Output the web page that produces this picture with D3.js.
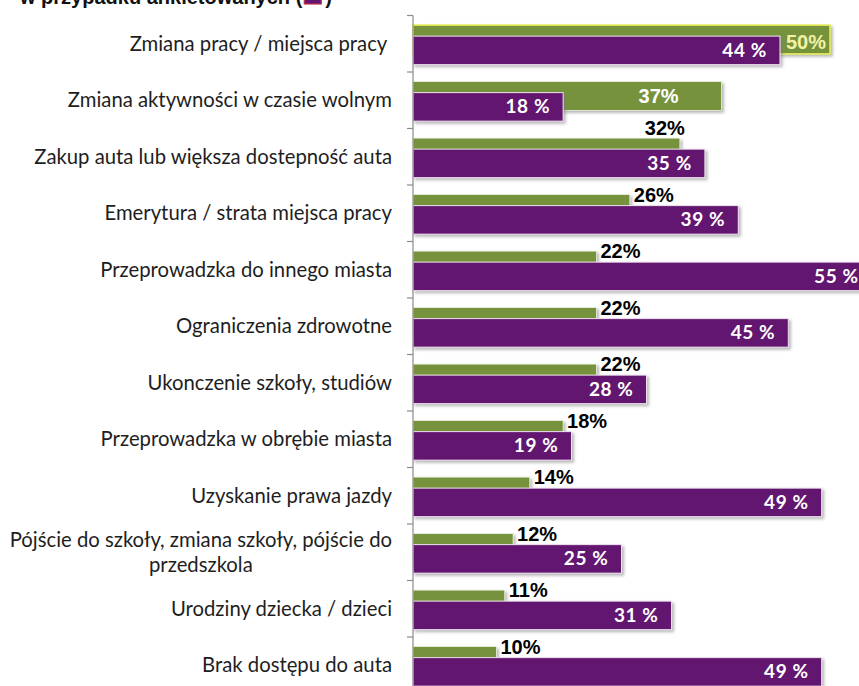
<!DOCTYPE html>
<html>
<head>
<meta charset="utf-8">
<script src="https://cdn.jsdelivr.net/npm/d3@7"></script>
<style>
  html, body { margin: 0; padding: 0; background: #ffffff; }
  svg { display: block; }
</style>
</head>
<body>
<script>
// Reasons for changing the way of travelling (share of answers, %)
const categories = [
  "Zmiana pracy / miejsca pracy\u00a0",
  "Zmiana aktywności w czasie wolnym",
  "Zakup auta lub większa dostepność auta",
  "Emerytura / strata miejsca pracy",
  "Przeprowadzka do innego miasta",
  "Ograniczenia zdrowotne",
  "Ukonczenie szkoły, studiów",
  "Przeprowadzka w obrębie miasta",
  "Uzyskanie prawa jazdy",
  "Pójście do szkoły, zmiana szkoły, pójście do\nprzedszkola",
  "Urodziny dziecka / dzieci",
  "Brak dostępu do auta"
];
// green series: comparison study
const comparisonValues = [50, 37, 32, 26, 22, 22, 22, 18, 14, 12, 11, 10];
// purple series: respondents
const respondentValues = [44, 18, 35, 39, 55, 45, 28, 19, 49, 25, 31, 49];

const W = 859, H = 686;
const GREEN = "#76923c", PURPLE = "#621470";

// where each green value label sits relative to its bar
const greenLabelMode = ["insideHi", "inside", "above", "after", "after", "after",
                        "after", "after", "after", "after", "after", "after"];

const svg = d3.select("body").append("svg")
  .attr("width", W).attr("height", H);

const defs = svg.append("defs");
const shadow = defs.append("filter").attr("id", "shadow")
  .attr("x", "-5%").attr("y", "-30%").attr("width", "115%").attr("height", "180%");
shadow.append("feDropShadow")
  .attr("dx", 2).attr("dy", 2).attr("stdDeviation", 1.4)
  .attr("flood-color", "#7a7a7a").attr("flood-opacity", 0.55);

const x = d3.scaleLinear().domain([0, 50]).range([413, 830]);
const y = d3.scaleBand().domain(categories).range([15.5, 693.5]).padding(0);
const bw = y.bandwidth();

const rows = categories.map((c, i) => ({
  cat: c, green: comparisonValues[i], purple: respondentValues[i], mode: greenLabelMode[i]
}));

// title line (partly above the visible area)
const title = svg.append("g");
const tTxt = title.append("text")
  .attr("x", 20).attr("y", 4)
  .attr("font-family", "'Liberation Sans', Arial, sans-serif")
  .attr("font-weight", "bold").attr("font-size", 20).attr("fill", "#111")
  .text("w przypadku ankietowanych (");
const tLen = tTxt.node().getComputedTextLength();
title.append("rect")
  .attr("x", 20 + tLen + 2).attr("y", -12).attr("width", 17).attr("height", 16)
  .attr("fill", PURPLE).attr("stroke", "#c0304a").attr("stroke-width", 1.2);
title.append("text")
  .attr("x", 20 + tLen + 23).attr("y", 4)
  .attr("font-family", "'Liberation Sans', Arial, sans-serif")
  .attr("font-weight", "bold").attr("font-size", 20).attr("fill", "#111")
  .text(")");

// green bars
svg.append("g").selectAll("rect").data(rows).join("rect")
  .attr("x", x(0))
  .attr("y", d => y(d.cat) + bw * 0.17)
  .attr("width", d => x(d.green) - x(0))
  .attr("height", bw * 0.51)
  .attr("fill", GREEN)
  .attr("stroke", d => d.mode === "insideHi" ? "#e4ec55" : "#eef2e4")
  .attr("stroke-width", d => d.mode === "insideHi" ? 1.6 : 0.8)
  .attr("filter", "url(#shadow)");

// purple bars
svg.append("g").selectAll("rect").data(rows).join("rect")
  .attr("x", x(0))
  .attr("y", d => y(d.cat) + bw * 0.365)
  .attr("width", d => x(d.purple) - x(0))
  .attr("height", bw * 0.505)
  .attr("fill", PURPLE)
  .attr("stroke", "#efe4ef").attr("stroke-width", 1)
  .attr("filter", "url(#shadow)");

// axis line and category boundary ticks
const axis = svg.append("g").attr("stroke", "#8c8c8c").attr("stroke-width", 1.2);
axis.append("line")
  .attr("x1", x(0)).attr("x2", x(0))
  .attr("y1", y.range()[0]).attr("y2", y.range()[1]);
const bounds = categories.map(c => y(c)).concat([y.range()[1]]);
axis.selectAll("line.tick").data(bounds).join("line")
  .attr("class", "tick")
  .attr("x1", x(0) - 6).attr("x2", x(0))
  .attr("y1", d => d).attr("y2", d => d);

// category labels (multi-line labels: continuation lines centred under the first)
const catG = svg.append("g")
  .attr("font-family", "Lato, 'Open Sans', sans-serif")
  .attr("font-size", 20.3).attr("fill", "#1e1e1e");
const LABEL_RIGHT = 392;
rows.forEach(d => {
  const lines = d.cat.split("\n");
  const cy = y(d.cat) + bw / 2;
  const lh = 25;
  let firstCenter = null;
  lines.forEach((ln, k) => {
    const base = cy + 7 + (k - (lines.length - 1) / 2) * lh;
    const t = catG.append("text").attr("y", base).text(ln);
    if (k === 0) {
      t.attr("x", LABEL_RIGHT).attr("text-anchor", "end");
      firstCenter = LABEL_RIGHT - t.node().getComputedTextLength() / 2;
    } else {
      t.attr("x", firstCenter).attr("text-anchor", "middle");
    }
  });
});

// purple value labels
svg.append("g").selectAll("text").data(rows).join("text")
  .attr("x", d => x(d.purple) - 13)
  .attr("y", d => y(d.cat) + bw * 0.365 + bw * 0.2525 + 6.5)
  .attr("text-anchor", "end")
  .attr("font-family", "Lato, 'Open Sans', sans-serif")
  .attr("font-weight", "bold").attr("font-size", 19)
  .attr("letter-spacing", 0.6)
  .attr("fill", "#ffffff")
  .text(d => d.purple + " %");

// green value labels
const gl = svg.append("g")
  .attr("font-family", "'Liberation Sans', Arial, sans-serif")
  .attr("font-weight", "bold").attr("font-size", 20);
rows.forEach(d => {
  const top = y(d.cat) + bw * 0.17;
  const end = x(d.green);
  const t = gl.append("text").text(d.green + "%");
  if (d.mode === "insideHi") {
    t.attr("x", end - 4).attr("y", top + 24).attr("text-anchor", "end").attr("fill", "#f2f2a6");
  } else if (d.mode === "inside") {
    t.attr("x", end - 43).attr("y", top + 21).attr("text-anchor", "end").attr("fill", "#ffffff");
  } else if (d.mode === "above") {
    t.attr("x", end + 5).attr("y", top - 3).attr("text-anchor", "end").attr("fill", "#000");
  } else {
    t.attr("x", end + 4).attr("y", top + 7).attr("text-anchor", "start").attr("fill", "#000");
  }
});
</script>
</body>
</html>
